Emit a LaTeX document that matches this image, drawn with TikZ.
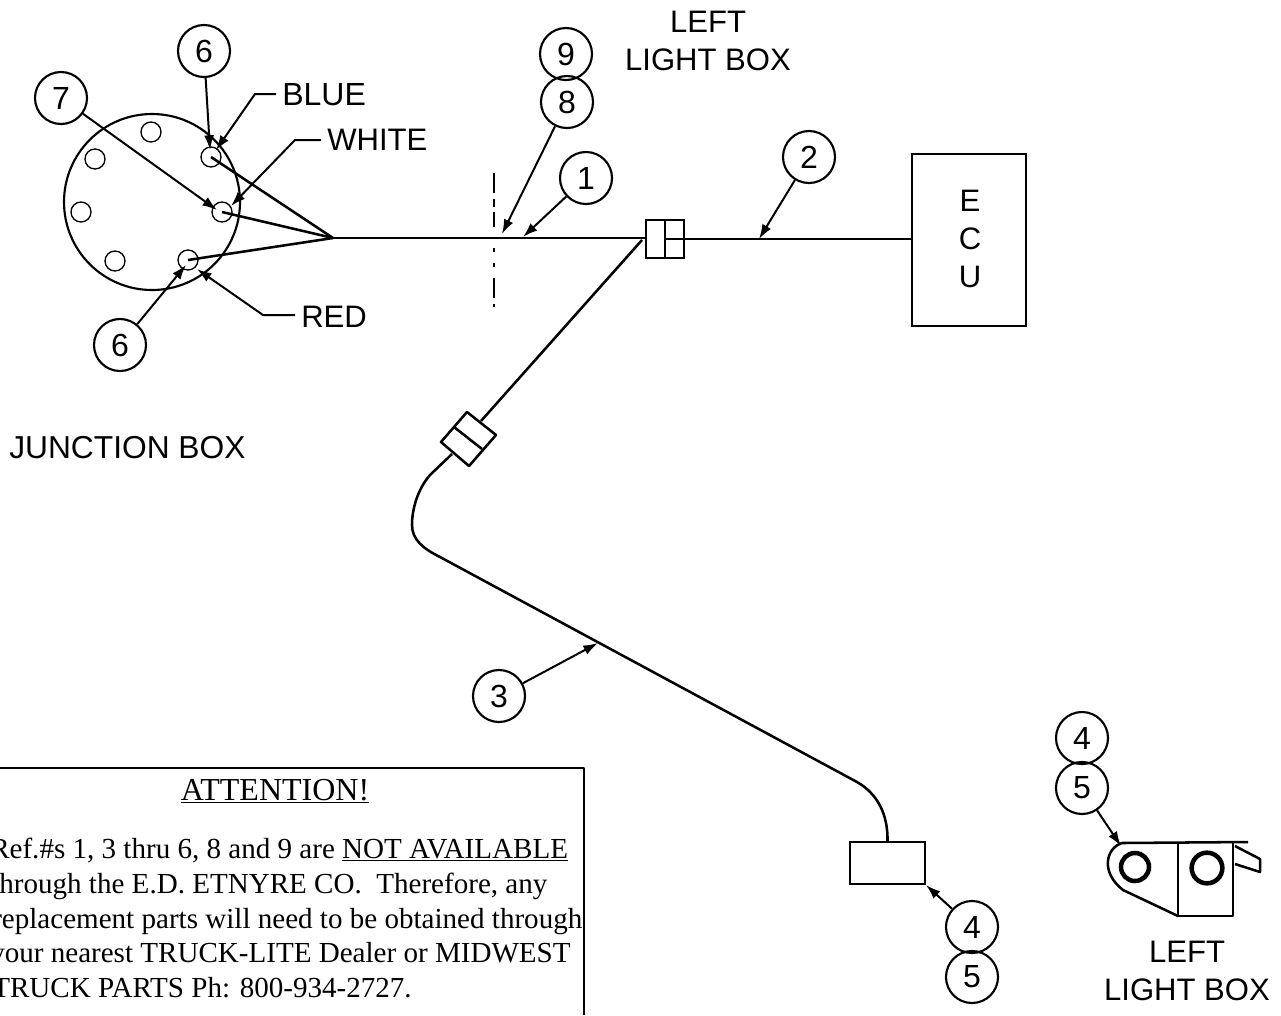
\documentclass[tikz,border=0pt]{standalone}
\usepackage{fontspec}
\setmainfont{Liberation Sans}
\newfontfamily\boxfont{Liberation Serif}
\usetikzlibrary{arrows.meta}
\tikzset{
  x=0.75pt,y=-0.75pt,
  wire/.style={line width=1.9pt,line join=round},
  heavy/.style={line width=2.2pt,line join=round},
  lead/.style={line width=1.5pt,-{Latex[length=11pt,width=7.5pt]}},
  callout/.style={circle,draw,line width=1.6pt,minimum size=39pt,inner sep=0pt,font=\fontsize{24}{24}\selectfont},
  hole/.style={circle,draw,line width=1pt,minimum size=15pt,inner sep=0pt},
  lbl/.style={anchor=base,inner sep=0pt,font=\fontsize{23.3}{23.3}\selectfont},
  boxline/.style={anchor=base west,inner sep=0pt,font=\boxfont\fontsize{21.8}{21.8}\selectfont},
}
\begin{document}
\begin{tikzpicture}
\useasboundingbox (0,0) rectangle (1281,1015);
% junction box
\node[circle,draw,line width=1.6pt,minimum size=132pt,inner sep=0pt] (jb) at (152,202) {};
\foreach \n/\p in {ha/{151,132},hb/{95,159},hc/{81,212},hd/{115,261}}{
  \node[hole] (\n) at (\p) {};
}
\node[hole] (hblue) at (211,157) {};
\node[hole] (hwhite) at (222,212) {};
\node[hole] (hred) at (188,260) {};
\coordinate (fan) at (333,238);
\draw[wire] (hblue.center) -- (fan);
\draw[wire] (hwhite.center) -- (fan);
\draw[wire] (hred.center) -- (fan);
% callouts
\node[callout] (c6a) at (204,51) {6};
\node[callout] (c7) at (61,98) {7};
\node[callout] (c6b) at (120,345) {6};
\node[callout] (c9) at (566,54) {9};
\node[callout] (c8) at (567,102) {8};
\node[callout] (c1) at (586,178) {1};
\node[callout] (c2) at (809,157) {2};
\node[callout] (c3) at (499,696) {3};
\node[callout] (c4a) at (972,927) {4};
\node[callout] (c5a) at (972,977) {5};
\node[callout] (c4b) at (1082,738) {4};
\node[callout] (c5b) at (1082,788) {5};
% main harness
\node[draw,line width=1.7pt,minimum size=28.5pt,inner sep=0pt] (conn) at (665,239) {};
\coordinate (connL) at (646,238);
\coordinate (connM) at (665,239);
\node[draw,line width=1.6pt,minimum width=85.5pt,minimum height=129pt,inner sep=0pt] (ecu) at (969,240) {};
\draw[heavy] (fan) -- (connL);
\draw[wire] (connM) -- (ecu.west |- connM);
\draw[wire] (665,220) -- (665,258);
% break line
\coordinate (brA) at (494,173);
\coordinate (brB) at (494,193);
\coordinate (brC) at (494,199);
\coordinate (brD) at (494,207);
\coordinate (brK) at (494,212);
\coordinate (brL) at (494,227);
\coordinate (brM) at (494,248);
\coordinate (brN) at (494,252);
\coordinate (brE) at (494,263);
\coordinate (brF) at (494,267);
\coordinate (brG) at (494,278);
\coordinate (brH) at (494,298);
\coordinate (brI) at (494,304);
\coordinate (brJ) at (494,307);
\draw[wire] (brA) -- (brB) (brC) -- (brD) (brK) -- (brL) (brM) -- (brN) (brE) -- (brF) (brG) -- (brH) (brI) -- (brJ);
% lower harness
\coordinate (clA) at (467,412);
\coordinate (clB) at (496,435);
\coordinate (clC) at (469,466);
\coordinate (clD) at (441,442);
\coordinate (clE) at (454,427);
\coordinate (clF) at (482,449);
\coordinate (wireTop) at (642,240);
\coordinate (wireIn) at (481,421);
\coordinate (wireOut) at (452,454);
\coordinate (wireBend) at (430,475);
\coordinate (wireSide) at (412,525);
\coordinate (wireLow) at (440,557);
\coordinate (wireEnd) at (857,782);
\draw[wire] (wireTop) -- (wireIn);
\draw[wire] (clA) -- (clB) -- (clC) -- (clD) -- cycle;
\draw[wire] (clE) -- (clF);
\node[draw,line width=1.6pt,minimum width=56pt,minimum height=31.5pt,inner sep=0pt] (plug) at (887.5,863) {};
\draw[wire] (wireOut) -- (wireBend) .. controls (417,490) and (412,510) .. (wireSide) .. controls (412,540) and (424,549) .. (wireLow) -- (wireEnd) .. controls (878,794) and (888,815) .. (plug.north);
% light box
\coordinate (lbA) at (1122,843);
\coordinate (lbB) at (1248,842);
\coordinate (lbC) at (1178,843);
\coordinate (lbD) at (1178,916);
\coordinate (lbE) at (1233,916);
\coordinate (lbF) at (1233,843);
\coordinate (lbG) at (1123,890);
\coordinate (lbT) at (1122,843);
\node[circle,draw,line width=3.4pt,minimum size=21pt,inner sep=0pt] (lbh1) at (1135,867) {};
\node[circle,draw,line width=3.4pt,minimum size=23pt,inner sep=0pt] (lbh2) at (1207,868) {};
\draw[wire] (lbA) -- (lbB);
\draw[wire] (lbC) -- (lbD) -- (lbE) -- (lbF);
\draw[wire] (lbT) .. controls (1106,848) and (1100,872) .. (lbG) -- (lbD);
\coordinate (tabA) at (1235,846);
\coordinate (tabB) at (1260,859);
\coordinate (tabC) at (1260,872);
\coordinate (tabD) at (1235,864);
\draw[wire] (tabA) -- (tabB) -- (tabC) -- (tabD);
% leaders
\coordinate (a6a) at (210,150);
\coordinate (a7) at (217,210);
\coordinate (a6b) at (186,265);
\coordinate (a8) at (502,234);
\coordinate (a1) at (523,237);
\coordinate (a2) at (759,239);
\coordinate (a3) at (598,643);
\coordinate (a4) at (926,885);
\coordinate (a5) at (1121,846);
\draw[lead] (c6a) -- (a6a);
\draw[lead] (c7) -- (a7);
\draw[lead] (c6b) -- (a6b);
\draw[lead] (c8) -- (a8);
\draw[lead] (c1) -- (a1);
\draw[lead] (c2) -- (a2);
\draw[lead] (c3) -- (a3);
\draw[lead] (c4a) -- (a4);
\draw[lead] (c5b) -- (a5);
% colour labels
\node[lbl,anchor=base west,font=\fontsize{24}{24}\selectfont] (blue) at (282,105) {BLUE};
\node[lbl,anchor=base west] (white) at (327,150) {WHITE};
\node[lbl,anchor=base west] (red) at (301,327) {RED};
\coordinate (bBlue) at (255,94);
\coordinate (bWhite) at (295,140);
\coordinate (bRed) at (263,315);
\coordinate (sBlue) at (276,94);
\coordinate (sWhite) at (321,140);
\coordinate (sRed) at (295,315);
\coordinate (tBlue) at (216,150);
\coordinate (tWhite) at (231,206);
\coordinate (tRed) at (197,269);
\draw[lead] (sBlue) -- (bBlue) -- (tBlue);
\draw[lead] (sWhite) -- (bWhite) -- (tWhite);
\draw[lead] (sRed) -- (bRed) -- (tRed);
% other labels
\node[lbl] (ltop1) at (708,32) {LEFT};
\node[lbl] (ltop2) at (708,70) {LIGHT BOX};
\node[lbl] (lbot1) at (1187,962) {LEFT};
\node[lbl] (lbot2) at (1187,1000) {LIGHT BOX};
\node[lbl,anchor=base west,font=\fontsize{23.8}{23.8}\selectfont] (junction) at (9,458) {JUNCTION BOX};
\node[lbl] (e1) at (970,211) {E};
\node[lbl] (e2) at (970,249) {C};
\node[lbl] (e3) at (970,287) {U};
% attention box
\coordinate (bxA) at (0,768);
\coordinate (bxB) at (584,768);
\coordinate (bxC) at (584,1015);
\draw[wire] (bxA) -- (bxB) -- (bxC);
\node[boxline,anchor=base,font=\boxfont\fontsize{24}{24}\selectfont] (att) at (275,800) {\underline{ATTENTION!}};
\node[boxline] (t1) at (-10,858) {Ref.\#s 1, 3 thru 6, 8 and 9 are \underline{NOT AVAILABLE}};
\node[boxline] (t2) at (-9,893) {through the E.D. ETNYRE CO.\ \ Therefore, any};
\node[boxline] (t3) at (-8,928) {replacement parts will need to be obtained through};
\node[boxline] (t4) at (-10,962) {your nearest TRUCK-LITE Dealer or MIDWEST};
\node[boxline] (t5) at (-8,997) {TRUCK PARTS Ph: 800-934-2727.};
\end{tikzpicture}
\end{document}
